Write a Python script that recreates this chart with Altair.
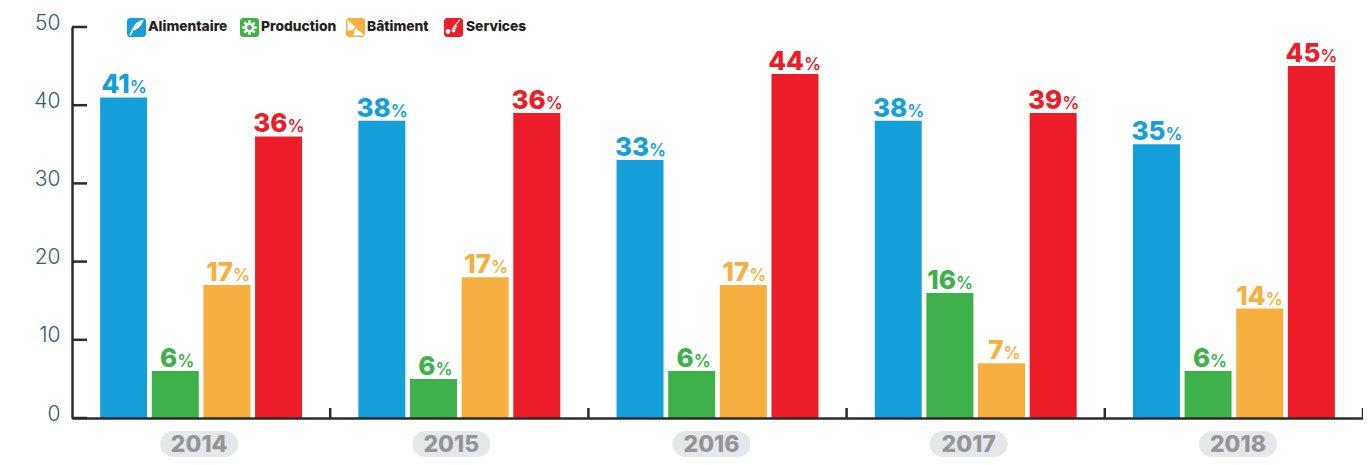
import math
import altair as alt
import pandas as pd

years = ["2014", "2015", "2016", "2017", "2018"]
series = ["Alimentaire", "Production", "Bâtiment", "Services"]
colors = ["#149fdb", "#3eb14b", "#f7b03f", "#ec1c28"]
bar_alimentaire = [41, 38, 33, 38, 35]
bar_production = [6, 5, 6, 16, 6]
bar_batiment = [17, 18, 17, 7, 14]
bar_services = [36, 39, 44, 39, 45]
label_alimentaire = [41, 38, 33, 38, 35]
label_production = [6, 6, 6, 16, 6]
label_batiment = [17, 17, 17, 7, 14]
label_services = [36, 36, 44, 39, 45]
y_ticks = [0, 10, 20, 30, 40, 50]

FONT = "Inter"
W, H = 1291, 391

rows = []
for s, bars, labels in zip(
    series,
    [bar_alimentaire, bar_production, bar_batiment, bar_services],
    [label_alimentaire, label_production, label_batiment, label_services],
):
    for year, b, l in zip(years, bars, labels):
        rows.append({"year": year, "series": s, "bar": b, "label": str(l)})
df = pd.DataFrame(rows)
df["kind"] = df["label"].map(lambda t: "one" if len(t) == 1 else ("narrow" if "1" in t else "wide"))

x_enc = alt.X("year:N", sort=years, title=None,
              scale=alt.Scale(domain=years, paddingInner=0, paddingOuter=0),
              axis=alt.Axis(labels=False, ticks=False, domainWidth=2.5, domainColor="#2b2a2c", zindex=1))
x_off = alt.XOffset("series:N", sort=series,
                    scale=alt.Scale(domain=series, paddingInner=0.09, paddingOuter=0.545))
y_axis = alt.Axis(values=y_ticks, ticks=False, grid=False, domainWidth=2.5, domainColor="#2b2a2c",
                  labelFont=FONT, labelFontWeight=300, labelFontSize=21, labelColor="#2f5d73",
                  labelPadding=12, labelOffset=-4, zindex=1)
y_scale = alt.Scale(domain=[0, 50], nice=False)
y_enc = alt.Y("bar:Q", title=None, scale=y_scale, axis=y_axis)
c_enc = alt.Color("series:N", legend=None, scale=alt.Scale(domain=series, range=colors))

layers = [alt.Chart(df).mark_bar(width=47).encode(x=x_enc, xOffset=x_off, y=y_enc, color=c_enc)]

# value labels: large number + small percent sign, split point depends on digit widths
for kind, split in [("one", 2), ("narrow", 6), ("wide", 9)]:
    sub = df[df["kind"] == kind]
    layers.append(alt.Chart(sub).mark_text(font=FONT, fontWeight=800, fontSize=26, align="right", baseline="alphabetic",
                                           dx=split, dy=-4)
                  .encode(x=x_enc, xOffset=x_off, y=y_enc, color=c_enc, text="label:N"))
    layers.append(alt.Chart(sub).mark_text(font=FONT, fontWeight=600, fontSize=17, align="left", baseline="alphabetic",
                                           dx=split, dy=-4)
                  .encode(x=x_enc, xOffset=x_off, y=y_enc, color=c_enc, text=alt.value("%")))

# inward ticks on the value axis
tick_df = pd.DataFrame({"tick": y_ticks})
layers.append(alt.Chart(tick_df).mark_rule(color="#2b2a2c", strokeWidth=2.5).encode(
    x=alt.value(0), x2=alt.value(15), y=alt.Y("tick:Q", title=None, scale=y_scale, axis=y_axis)))

# upward ticks at the category boundaries
year_df = pd.DataFrame({"year": years})
layers.append(alt.Chart(year_df).mark_rule(color="#2b2a2c", strokeWidth=2.5).transform_filter("datum.year != '2014'").encode(
    x=alt.X("year:N", sort=years, bandPosition=0, title=None), y=alt.value(H - 10), y2=alt.value(H)))
layers.append(alt.Chart(year_df.head(1)).mark_rule(color="#2b2a2c", strokeWidth=2.5).encode(
    x=alt.value(W), y=alt.value(H - 10), y2=alt.value(H)))

# category labels on grey pills
pill_shift = [-2, -8, -6, -7, 4]
for year, shift in zip(years, pill_shift):
    one = pd.DataFrame({"year": [year]})
    xe = alt.X("year:N", sort=years, title=None)
    layers.append(alt.Chart(one).mark_bar(width=78, cornerRadius=13, color="#e6e7e8", xOffset=shift).encode(
        x=xe, y=alt.value(H + 13), y2=alt.value(H + 39)))
    layers.append(alt.Chart(one).mark_text(font=FONT, fontWeight=800, fontSize=23, color="#939598", dx=shift,
                                           baseline="middle").encode(
        x=xe, y=alt.value(H + 27), text="year:N"))


def gear():
    p = "M0,-.25A.25,.25 0 1,1 0,.25A.25,.25 0 1,1 0,-.25ZM0,-.13A.13,.13 0 1,0 0,.13A.13,.13 0 1,0 0,-.13Z"
    for i in range(8):
        a = i * math.pi / 4
        pts = [(-.07, -.38), (.07, -.38), (.07, -.22), (-.07, -.22)]
        rot = [(x * math.cos(a) - y * math.sin(a), x * math.sin(a) + y * math.cos(a)) for x, y in pts]
        p += "M" + "L".join(f"{x:.3f},{y:.3f}" for x, y in rot) + "Z"
    return p


icons = [
    "M.38,-.42C.1,-.38 -.15,-.15 -.24,.12L-.38,.4L-.3,.42L-.16,.16C.1,.1 .3,-.12 .38,-.42Z",
    gear(),
    "M-.42,-.4L.0,-.02L-.16,.14L-.42,.16ZM-.02,.02L.42,.34L.42,.42L-.1,.42Z",
    "M.3,-.44L.36,-.4L-.08,.14L-.12,.1ZM.14,-.1L.02,.06A.1,.1 0 1,0 .08,.1L.2,-.06ZM-.2,.12A.1,.1 0 1,0 -.38,.3A.1,.1 0 1,0 -.2,.12Z",
]
legend_square_x = [55, 168, 274, 372]
legend_text_x = [76, 189, 295, 394]
for s, col, icon, sx, tx in zip(series, colors, icons, legend_square_x, legend_text_x):
    one = pd.DataFrame({"series": [s]})
    layers.append(alt.Chart(one).mark_rect(color=col, cornerRadius=3).encode(
        x=alt.value(sx), x2=alt.value(sx + 19), y=alt.value(-9), y2=alt.value(10)))
    layers.append(alt.Chart(one).mark_point(shape=icon, filled=True, color="white", opacity=1, size=1444).encode(
        x=alt.value(sx + 9.5), y=alt.value(0.5)))
    layers.append(alt.Chart(one).mark_text(font=FONT, fontWeight=800, fontSize=13.8, color="#231f20", align="left",
                                           baseline="middle").encode(
        x=alt.value(tx), y=alt.value(0), text="series:N"))

chart = alt.layer(*layers).resolve_scale(color="independent").properties(
    width=W, height=H,
    autosize=alt.AutoSizeParams(type="none"),
    padding={"left": 64, "top": 19, "right": 0, "bottom": 39},
    background="white",
).configure_view(stroke=None)

chart.save("out.html", embed_options={"renderer": "svg", "actions": False})
